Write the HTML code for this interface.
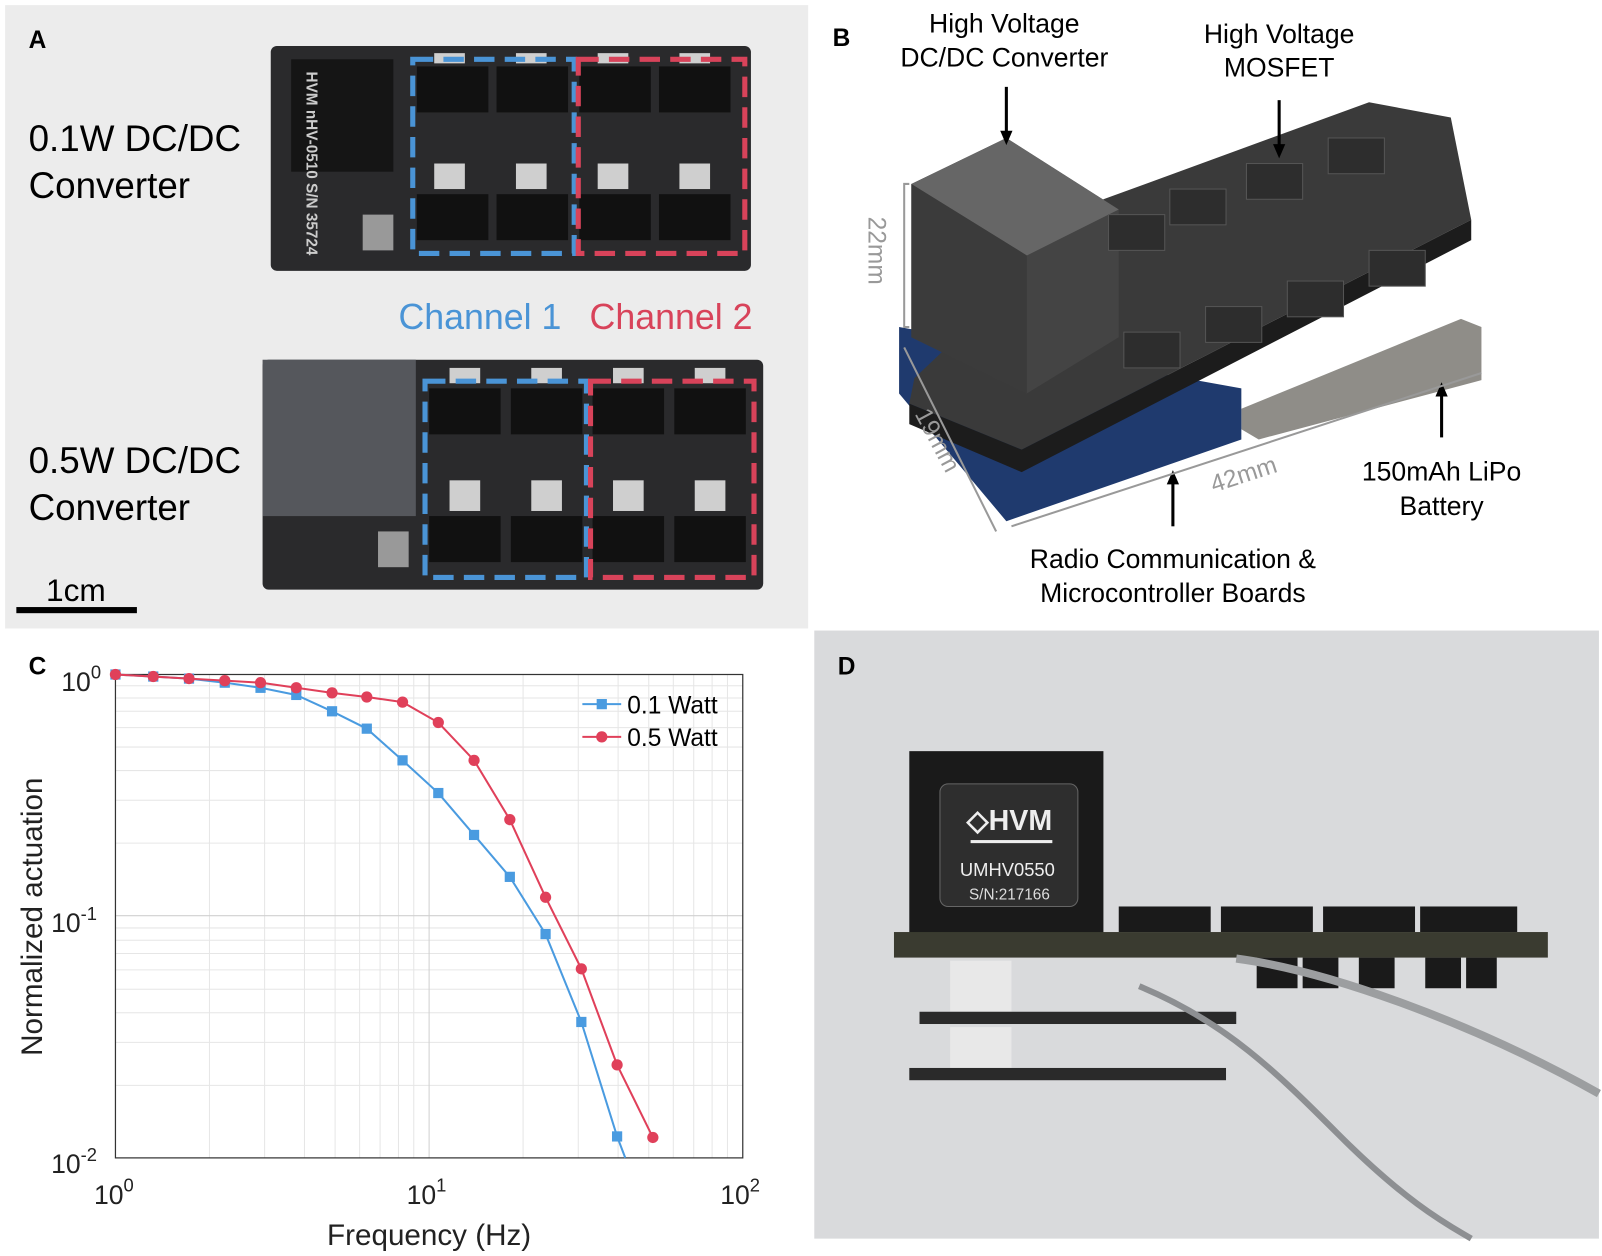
<!DOCTYPE html>
<html><head><meta charset="utf-8"><style>
html,body{margin:0;padding:0;background:#fff;}
svg{display:block;font-family:"Liberation Sans",Arial,sans-serif;}
</style></head><body>
<svg width="1602" height="1256" viewBox="0 0 1568 1229" preserveAspectRatio="none" xmlns="http://www.w3.org/2000/svg">
<rect width="1568" height="1229" fill="#fff"/>
<!-- Panel A -->
<rect x="5" y="5" width="786" height="610" fill="#ececec"/>
<text x="28" y="47" font-size="24" font-weight="bold">A</text>
<text x="28" y="148" font-size="36">0.1W DC/DC</text>
<text x="28" y="194" font-size="36">Converter</text>
<text x="28" y="463" font-size="36">0.5W DC/DC</text>
<text x="28" y="509" font-size="36">Converter</text>
<!-- board 1 -->
<rect x="265" y="45" width="470" height="220" rx="6" fill="#2a2a2c"/>
<rect x="285" y="58" width="100" height="110" fill="#151515"/>
<text x="0" y="0" font-size="15" font-weight="bold" fill="#ccc" transform="translate(300,70) rotate(90)">HVM nHV-0510 S/N 35724</text>
<rect x="355" y="210" width="30" height="35" fill="#999"/>
<g fill="#111">
<rect x="408" y="65" width="70" height="45"/><rect x="486" y="65" width="70" height="45"/><rect x="567" y="65" width="70" height="45"/><rect x="645" y="65" width="70" height="45"/>
<rect x="408" y="190" width="70" height="45"/><rect x="486" y="190" width="70" height="45"/><rect x="567" y="190" width="70" height="45"/><rect x="645" y="190" width="70" height="45"/>
</g>
<g fill="#cfcfcf">
<rect x="425" y="52" width="30" height="10"/><rect x="505" y="52" width="30" height="10"/><rect x="585" y="52" width="30" height="10"/><rect x="665" y="52" width="30" height="10"/>
<rect x="425" y="160" width="30" height="25"/><rect x="505" y="160" width="30" height="25"/><rect x="585" y="160" width="30" height="25"/><rect x="665" y="160" width="30" height="25"/>
</g>
<rect x="404" y="58" width="158" height="190" fill="none" stroke="#4a94d6" stroke-width="5" stroke-dasharray="20,10"/>
<rect x="566" y="58" width="163" height="190" fill="none" stroke="#d8435a" stroke-width="5" stroke-dasharray="20,10"/>
<!-- board 2 -->
<rect x="257" y="352" width="490" height="225" rx="6" fill="#2a2a2c"/>
<rect x="257" y="352" width="150" height="153" fill="#55575c"/>
<rect x="370" y="520" width="30" height="35" fill="#999"/>
<g fill="#111">
<rect x="420" y="380" width="70" height="45"/><rect x="500" y="380" width="70" height="45"/><rect x="580" y="380" width="70" height="45"/><rect x="660" y="380" width="70" height="45"/>
<rect x="420" y="505" width="70" height="45"/><rect x="500" y="505" width="70" height="45"/><rect x="580" y="505" width="70" height="45"/><rect x="660" y="505" width="70" height="45"/>
</g>
<g fill="#cfcfcf">
<rect x="440" y="360" width="30" height="15"/><rect x="520" y="360" width="30" height="15"/><rect x="600" y="360" width="30" height="15"/><rect x="680" y="360" width="30" height="15"/>
<rect x="440" y="470" width="30" height="30"/><rect x="520" y="470" width="30" height="30"/><rect x="600" y="470" width="30" height="30"/><rect x="680" y="470" width="30" height="30"/>
</g>
<rect x="416" y="373" width="158" height="192" fill="none" stroke="#4a94d6" stroke-width="5" stroke-dasharray="20,10"/>
<rect x="578" y="373" width="160" height="192" fill="none" stroke="#d8435a" stroke-width="5" stroke-dasharray="20,10"/>
<text x="390" y="322" font-size="35" fill="#4a94d6">Channel 1</text>
<text x="577" y="322" font-size="35" fill="#d8435a">Channel 2</text>
<text x="45" y="588" font-size="31">1cm</text>
<rect x="16" y="594" width="118" height="6" fill="#000"/>
<!-- Panel B -->
<text x="815" y="45" font-size="24" font-weight="bold">B</text>
<text x="983" y="32" font-size="26" text-anchor="middle">High Voltage</text>
<text x="983" y="65" font-size="26" text-anchor="middle">DC/DC Converter</text>
<text x="1252" y="42" font-size="26" text-anchor="middle">High Voltage</text>
<text x="1252" y="75" font-size="26" text-anchor="middle">MOSFET</text>
<!-- battery -->
<polygon points="1215,400 1430,312 1450,320 1450,372 1232,430 1215,420" fill="#8f8d88"/>
<!-- blue boards -->
<polygon points="880,320 1215,380 1215,430 985,510 880,385" fill="#1f3a6e"/>
<!-- main board -->
<polygon points="895,370 1080,195 1340,100 1420,115 1440,215 1000,440 890,395" fill="#3a3a3a"/>
<polygon points="890,395 1000,440 1440,215 1440,235 1000,462 890,415" fill="#1c1c1c"/>
<!-- converter block -->
<polygon points="892,180 985,135 1095,205 1095,330 1005,385 892,330" fill="#444"/>
<polygon points="892,180 985,135 1095,205 1005,250" fill="#666"/>
<polygon points="892,180 1005,250 1005,385 892,330" fill="#3b3b3b"/>
<g fill="#2d2d2d" stroke="#555">
<rect x="1100" y="325" width="55" height="35"/><rect x="1180" y="300" width="55" height="35"/><rect x="1260" y="275" width="55" height="35"/><rect x="1340" y="245" width="55" height="35"/>
<rect x="1085" y="210" width="55" height="35"/><rect x="1145" y="185" width="55" height="35"/><rect x="1220" y="160" width="55" height="35"/><rect x="1300" y="135" width="55" height="35"/>
</g>
<g stroke="#000" stroke-width="3"><line x1="985" y1="85" x2="985" y2="135"/><line x1="1252" y1="98" x2="1252" y2="148"/><line x1="1411" y1="380" x2="1411" y2="428"/><line x1="1148" y1="468" x2="1148" y2="515"/></g>
<g fill="#000"><polygon points="979,128 991,128 985,142"/><polygon points="1246,141 1258,141 1252,155"/><polygon points="1405,388 1417,388 1411,374"/><polygon points="1142,474 1154,474 1148,460"/></g>
<g stroke="#999" stroke-width="2" fill="none"><polyline points="890,180 885,180 885,320 890,320"/><polyline points="885,340 975,520"/><polyline points="990,515 1450,365"/></g>
<text x="0" y="0" font-size="24" fill="#999" transform="translate(850,212) rotate(90)">22mm</text>
<text x="0" y="0" font-size="24" fill="#999" transform="translate(895,405) rotate(62)">19mm</text>
<text x="0" y="0" font-size="24" fill="#999" transform="translate(1188,482) rotate(-18)">42mm</text>
<text x="1411" y="470" font-size="26" text-anchor="middle">150mAh LiPo</text>
<text x="1411" y="504" font-size="26" text-anchor="middle">Battery</text>
<text x="1148" y="556" font-size="26" text-anchor="middle">Radio Communication &amp;</text>
<text x="1148" y="589" font-size="26" text-anchor="middle">Microcontroller Boards</text>
<!-- Panel C -->
<text x="28" y="660" font-size="24" font-weight="bold">C</text>
<g stroke="#e6e6e6" stroke-width="1">
<line x1="205" y1="660" x2="205" y2="1133"/><line x1="259" y1="660" x2="259" y2="1133"/><line x1="298" y1="660" x2="298" y2="1133"/><line x1="328" y1="660" x2="328" y2="1133"/><line x1="352" y1="660" x2="352" y2="1133"/><line x1="372" y1="660" x2="372" y2="1133"/><line x1="390" y1="660" x2="390" y2="1133"/><line x1="405" y1="660" x2="405" y2="1133"/>
<line x1="512" y1="660" x2="512" y2="1133"/><line x1="566" y1="660" x2="566" y2="1133"/><line x1="605" y1="660" x2="605" y2="1133"/><line x1="635" y1="660" x2="635" y2="1133"/><line x1="659" y1="660" x2="659" y2="1133"/><line x1="679" y1="660" x2="679" y2="1133"/><line x1="697" y1="660" x2="697" y2="1133"/><line x1="712" y1="660" x2="712" y2="1133"/>
<line x1="113" y1="825" x2="727" y2="825"/><line x1="113" y1="783" x2="727" y2="783"/><line x1="113" y1="754" x2="727" y2="754"/><line x1="113" y1="731" x2="727" y2="731"/><line x1="113" y1="712" x2="727" y2="712"/><line x1="113" y1="696" x2="727" y2="696"/><line x1="113" y1="683" x2="727" y2="683"/><line x1="113" y1="671" x2="727" y2="671"/>
<line x1="113" y1="1062" x2="727" y2="1062"/><line x1="113" y1="1020" x2="727" y2="1020"/><line x1="113" y1="991" x2="727" y2="991"/><line x1="113" y1="968" x2="727" y2="968"/><line x1="113" y1="949" x2="727" y2="949"/><line x1="113" y1="933" x2="727" y2="933"/><line x1="113" y1="920" x2="727" y2="920"/><line x1="113" y1="908" x2="727" y2="908"/>
</g>
<g stroke="#d0d0d0"><line x1="420" y1="660" x2="420" y2="1133"/><line x1="113" y1="896" x2="727" y2="896"/></g>
<rect x="113" y="660" width="614" height="473" fill="none" stroke="#333" stroke-width="1.2"/>
<polyline fill="none" stroke="#4a9be0" stroke-width="2" points="113,660 150,662 185,664 220,668 255,673 290,680 325,696 359,713 394,744 429,776 464,817 499,858 534,914 569,1000 604,1112 612,1133"/>
<g fill="#4a9be0"><rect x="108" y="655" width="10" height="10"/><rect x="145" y="657" width="10" height="10"/><rect x="180" y="659" width="10" height="10"/><rect x="215" y="663" width="10" height="10"/><rect x="250" y="668" width="10" height="10"/><rect x="285" y="675" width="10" height="10"/><rect x="320" y="691" width="10" height="10"/><rect x="354" y="708" width="10" height="10"/><rect x="389" y="739" width="10" height="10"/><rect x="424" y="771" width="10" height="10"/><rect x="459" y="812" width="10" height="10"/><rect x="494" y="853" width="10" height="10"/><rect x="529" y="909" width="10" height="10"/><rect x="564" y="995" width="10" height="10"/><rect x="599" y="1107" width="10" height="10"/></g>
<polyline fill="none" stroke="#e0405a" stroke-width="2" points="113,660 150,662 185,664 220,666 255,668 290,673 325,678 359,682 394,687 429,707 464,744 499,802 534,878 569,948 604,1042 639,1113"/>
<g fill="#e0405a"><circle cx="113" cy="660" r="5.5"/><circle cx="150" cy="662" r="5.5"/><circle cx="185" cy="664" r="5.5"/><circle cx="220" cy="666" r="5.5"/><circle cx="255" cy="668" r="5.5"/><circle cx="290" cy="673" r="5.5"/><circle cx="325" cy="678" r="5.5"/><circle cx="359" cy="682" r="5.5"/><circle cx="394" cy="687" r="5.5"/><circle cx="429" cy="707" r="5.5"/><circle cx="464" cy="744" r="5.5"/><circle cx="499" cy="802" r="5.5"/><circle cx="534" cy="878" r="5.5"/><circle cx="569" cy="948" r="5.5"/><circle cx="604" cy="1042" r="5.5"/><circle cx="639" cy="1113" r="5.5"/></g>
<line x1="570" y1="689" x2="608" y2="689" stroke="#4a9be0" stroke-width="2"/><rect x="584" y="684" width="10" height="10" fill="#4a9be0"/>
<line x1="570" y1="721" x2="608" y2="721" stroke="#e0405a" stroke-width="2"/><circle cx="589" cy="721" r="5.5" fill="#e0405a"/>
<text x="614" y="698" font-size="24">0.1 Watt</text>
<text x="614" y="730" font-size="24">0.5 Watt</text>
<g font-size="26" fill="#222">
<text x="60" y="676">10<tspan font-size="18" dy="-12">0</tspan></text>
<text x="50" y="912">10<tspan font-size="18" dy="-12">-1</tspan></text>
<text x="50" y="1148">10<tspan font-size="18" dy="-12">-2</tspan></text>
<text x="92" y="1178">10<tspan font-size="18" dy="-12">0</tspan></text>
<text x="398" y="1178">10<tspan font-size="18" dy="-12">1</tspan></text>
<text x="705" y="1178">10<tspan font-size="18" dy="-12">2</tspan></text>
</g>
<text x="420" y="1218" font-size="29" text-anchor="middle" fill="#222">Frequency (Hz)</text>
<text x="0" y="0" font-size="29" text-anchor="middle" fill="#222" transform="translate(41,897) rotate(-90)">Normalized actuation</text>
<!-- Panel D -->
<rect x="797" y="617" width="768" height="595" fill="#d9dadc"/>
<text x="820" y="660" font-size="24" font-weight="bold">D</text>
<rect x="890" y="735" width="190" height="180" fill="#1a1a1a"/>
<rect x="920" y="767" width="135" height="120" rx="8" fill="#2e2e2e" stroke="#666"/>
<text x="988" y="812" font-size="28" font-weight="bold" fill="#eee" text-anchor="middle">◇HVM</text>
<rect x="950" y="822" width="80" height="3" fill="#eee"/>
<text x="986" y="857" font-size="18" fill="#eee" text-anchor="middle">UMHV0550</text>
<text x="988" y="880" font-size="15" fill="#ddd" text-anchor="middle">S/N:217166</text>
<g fill="#1a1a1a"><rect x="1095" y="887" width="90" height="25"/><rect x="1195" y="887" width="90" height="25"/><rect x="1295" y="887" width="90" height="25"/><rect x="1390" y="887" width="95" height="25"/></g>
<rect x="875" y="912" width="640" height="25" fill="#3a3b30"/>
<g fill="#1a1a1a"><rect x="1230" y="937" width="40" height="30"/><rect x="1275" y="937" width="35" height="30"/><rect x="1330" y="937" width="35" height="30"/><rect x="1395" y="937" width="35" height="30"/><rect x="1435" y="937" width="30" height="30"/></g>
<rect x="930" y="940" width="60" height="50" fill="#e8e8e8"/>
<rect x="900" y="990" width="310" height="12" fill="#2a2a2a"/>
<rect x="930" y="1005" width="60" height="40" fill="#e8e8e8"/>
<rect x="890" y="1045" width="310" height="12" fill="#2a2a2a"/>
<path d="M1115,965 C1200,1000 1250,1050 1310,1110 C1380,1180 1420,1200 1440,1212" fill="none" stroke="#8d8f92" stroke-width="6"/>
<path d="M1210,938 C1300,950 1440,1000 1565,1070" fill="none" stroke="#9c9ea0" stroke-width="8"/>
</svg>
</body></html>
